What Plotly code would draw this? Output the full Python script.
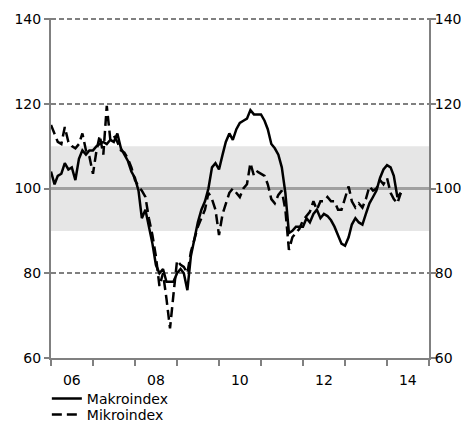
import pandas as pd
import plotly.graph_objs as go

# monthly values, Jan 2006 - May 2014
makro = [104, 101, 103, 103.5, 106, 104.5, 105, 102, 107, 109, 108, 109,
         109, 110, 110.5, 111, 110.5, 111.5, 111, 113, 109.5, 108, 106.5, 104,
         102.5, 99.5, 93, 95, 91, 87, 82, 80, 81, 78, 78, 78,
         80, 81, 80, 76, 84, 88, 92, 95, 97, 100, 105, 106,
         104.5, 108, 111, 113, 111.5, 114, 115.5, 116, 116.5, 118.5, 117.5, 117.5,
         117.5, 116, 114, 110.5, 109.5, 108, 105, 99, 89.5, 90, 91, 91,
         91, 93, 92, 94, 95, 93, 94, 93.5, 92.5, 91, 89, 87,
         86.5, 88.5, 91.5, 93, 92, 91.5, 94, 96.5, 98, 99.5, 102.5, 104.5,
         105.5, 105, 103, 98, 99]
mikro = [115, 113, 111, 110.5, 114.5, 111, 110, 109.5, 110.5, 113, 109, 107.5,
         103.5, 109, 112.5, 108, 119.5, 111.5, 112.5, 111, 109, 108.5, 107, 105,
         102, 100.5, 99.5, 98, 93, 89, 84, 77, 80, 74, 67, 75,
         83, 82, 81.5, 80, 85, 88, 91, 93, 95, 99, 97.5, 95,
         89, 94, 96.5, 99, 100, 99, 98, 100, 101, 106, 103, 104,
         103.5, 103, 101, 97.5, 96.5, 98.5, 99.5, 95, 85.5, 88.5, 89.5, 90.5,
         92.5, 93.5, 94.5, 97, 95, 97, 97, 98, 97, 97, 95, 95,
         98, 100.5, 97, 95.5, 96.5, 95.5, 97.5, 100.5, 99.5, 100, 102, 101,
         102.5, 99, 97.5, 96.5, 99]
dates = pd.date_range("2006-01-01", periods=len(makro), freq="MS")

year_edges = [str(y) + "-01-01" for y in range(2006, 2016)]
label_pos = [str(y) + "-07-01" for y in range(2006, 2016, 2)]
label_text = ["06", "08", "10", "12", "14"]
y_ticks = [60, 80, 100, 120, 140]
grid_ticks = [80, 120, 140]

grey = "#808080"
y_range = [60, 140.25]

data = [go.Scatter(x=dates, y=makro, name="Makroindex", mode="lines",
                   line=dict(color="black", width=2.5), legend="legend"),
        go.Scatter(x=dates, y=mikro, name="Mikroindex", mode="lines",
                   line=dict(color="black", width=2.5, dash="10px,5px"),
                   legend="legend2"),
        # invisible traces to get the right-hand axis and the grid axis
        go.Scatter(x=dates[:1], y=[100], yaxis="y2", showlegend=False,
                   mode="lines", line=dict(width=0), hoverinfo="skip"),
        go.Scatter(x=dates[:1], y=[100], yaxis="y3", showlegend=False,
                   mode="lines", line=dict(width=0), hoverinfo="skip")]

legend_style = dict(x=-0.011, xanchor="left", yanchor="top",
                    bgcolor="rgba(0,0,0,0)", font=dict(size=14))

# page body adds 8px around the figure, so the figure is 8px smaller
layout = dict(width=461, height=415,
              margin=dict(l=43, r=40, t=10, b=65, autoexpand=False),
              paper_bgcolor="white", plot_bgcolor="white",
              font=dict(family="DejaVu Sans", size=14, color="black"),
              showlegend=True,
              legend=dict(legend_style, y=-0.0735),
              legend2=dict(legend_style, y=-0.1206),
              xaxis=dict(type="date", range=["2006-01-01", "2015-01-01"],
                         tickvals=label_pos, ticktext=label_text, ticks="",
                         ticklabelstandoff=8, automargin=False,
                         showgrid=False, zeroline=False,
                         showline=True, linecolor=grey, linewidth=2,
                         minor=dict(tickvals=year_edges, ticks="outside",
                                    ticklen=6, tickwidth=2, tickcolor=grey,
                                    showgrid=False)),
              yaxis=dict(range=y_range, tickvals=y_ticks, ticks="outside",
                         ticklen=5, tickwidth=2, tickcolor=grey, automargin=False,
                         showline=True, linecolor=grey, linewidth=2,
                         showgrid=False, zeroline=False),
              yaxis2=dict(range=y_range, tickvals=y_ticks, ticks="outside",
                          ticklen=5, tickwidth=2, tickcolor=grey,
                          ticklabelstandoff=-4, automargin=False,
                          overlaying="y", side="right",
                          showline=True, linecolor=grey, linewidth=2,
                          showgrid=False, zeroline=False),
              yaxis3=dict(range=y_range, tickvals=grid_ticks, overlaying="y",
                          showticklabels=False, ticks="", showline=False,
                          showgrid=True, gridcolor=grey, gridwidth=1.5,
                          griddash="5px,3px", zeroline=False),
              shapes=[dict(type="rect", xref="paper", yref="y", x0=0, x1=1,
                           y0=90, y1=110, fillcolor="#e6e6e6", line=dict(width=0),
                           layer="below"),
                      dict(type="line", xref="paper", yref="y", x0=0, x1=1,
                           y0=100, y1=100, line=dict(color="#a0a0a0", width=3),
                           layer="below")])

fig = go.Figure(data=data, layout=layout)
fig.write_html("out.html")
